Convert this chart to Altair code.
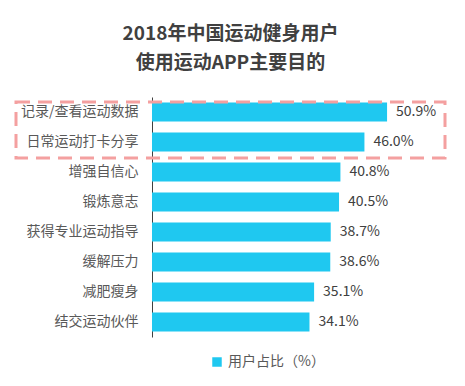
import altair as alt
import pandas as pd

categories = ["记录/查看运动数据", "日常运动打卡分享", "增强自信心", "锻炼意志",
              "获得专业运动指导", "缓解压力", "减肥瘦身", "结交运动伙伴"]
values = [50.9, 46.0, 40.8, 40.5, 38.7, 38.6, 35.1, 34.1]
series_name = "用户占比（%）"

df = pd.DataFrame({"cat": categories, "val": values, "series": series_name})
df["label"] = [f"{v:.1f}%" for v in values]

FONT = "Noto Sans CJK SC"
W, H = 254, 240

y_enc = alt.Y("cat:N", sort=categories, title=None,
              scale=alt.Scale(paddingInner=0.36, paddingOuter=0.18),
              axis=alt.Axis(ticks=False, domainColor="#404040", domainWidth=1,
                            labelPadding=14, labelFontSize=14, labelFont=FONT,
                            labelColor="#595959", grid=False))

bars = alt.Chart(df).mark_bar(color="#1FC8F0").encode(
    y=y_enc,
    x=alt.X("val:Q", scale=alt.Scale(domain=[0, 55]), axis=None),
    color=alt.Color("series:N", scale=alt.Scale(range=["#1FC8F0"]),
                    legend=alt.Legend(title=None, orient="none", legendX=58, legendY=258,
                                      symbolType="square",
                                      symbolSize=90, labelFont=FONT, labelFontSize=14,
                                      labelColor="#595959")),
)

text = alt.Chart(df).mark_text(align="left", baseline="middle", dx=9, fontSize=14,
                               font=FONT, color="#404040").encode(
    y=alt.Y("cat:N", sort=categories),
    x="val:Q",
    text="label:N",
)

box = alt.Chart(df.head(1)).mark_rect(fill=None, stroke="#F4A0A0", strokeWidth=3,
                                      strokeDash=[14, 8]).encode(
    x=alt.value(-136), x2=alt.value(293), y=alt.value(5), y2=alt.value(61)
)

chart = alt.layer(bars, text, box).properties(
    width=W, height=H,
    title=alt.TitleParams(["2018年中国运动健身用户", "使用运动APP主要目的"],
                          fontSize=19, fontWeight="bold", font=FONT, color="#404040",
                          anchor="middle", frame="bounds", lineHeight=29, offset=24),
    padding={"left": 6, "top": 17, "right": 10, "bottom": 5},
).configure_view(stroke=None)

chart.save("out.html", embed_options={"renderer": "svg", "actions": False})
